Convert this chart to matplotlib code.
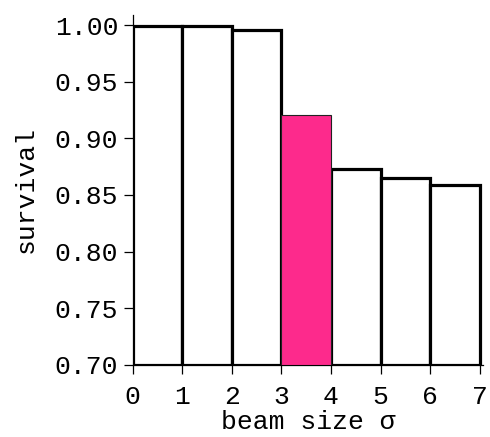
import matplotlib
matplotlib.use("Agg")
import matplotlib.pyplot as plt

# datos
bordes = [0, 1, 2, 3, 4, 5, 6]
supervivencia = [0.999, 0.999, 0.996, 0.921, 0.873, 0.865, 0.859]
resaltado = 3

plt.rcParams['font.family'] = ['Liberation Mono', 'DejaVu Sans']

fig = plt.figure(figsize=(4.9, 4.37), dpi=100)
ax = fig.add_axes([0.271, 0.165, 0.715, 0.801])

for i, (x, y) in enumerate(zip(bordes, supervivencia)):
    if i == resaltado:
        continue
    ax.bar(x, y - 0.70, bottom=0.70, width=1, align='edge', color='white',
           edgecolor='black', linewidth=2.3, zorder=2)

ax.bar(bordes[resaltado], supervivencia[resaltado] - 0.70, bottom=0.70, width=1,
       align='edge', color='#fd2a8c', edgecolor='#222222', linewidth=0.8, zorder=3)

ax.set_xlim(0, 7.07)
ax.set_ylim(0.70, 1.009)
ax.set_xticks(range(0, 8))
ax.set_yticks([0.70, 0.75, 0.80, 0.85, 0.90, 0.95, 1.00])
ax.set_yticklabels(['0.70', '0.75', '0.80', '0.85', '0.90', '0.95', '1.00'])

for lado in ['top', 'right']:
    ax.spines[lado].set_visible(False)
for lado in ['left', 'bottom']:
    ax.spines[lado].set_linewidth(0.9)

ax.tick_params(direction='out', length=6.5, width=0.9, labelsize=19)
ax.tick_params(axis='y', pad=4)
ax.tick_params(axis='x', pad=8)
ax.set_xlabel('beam size σ', fontsize=19, labelpad=1)
ax.set_ylabel('survival', fontsize=19, labelpad=12)

fig.savefig('out.png', dpi=100)
